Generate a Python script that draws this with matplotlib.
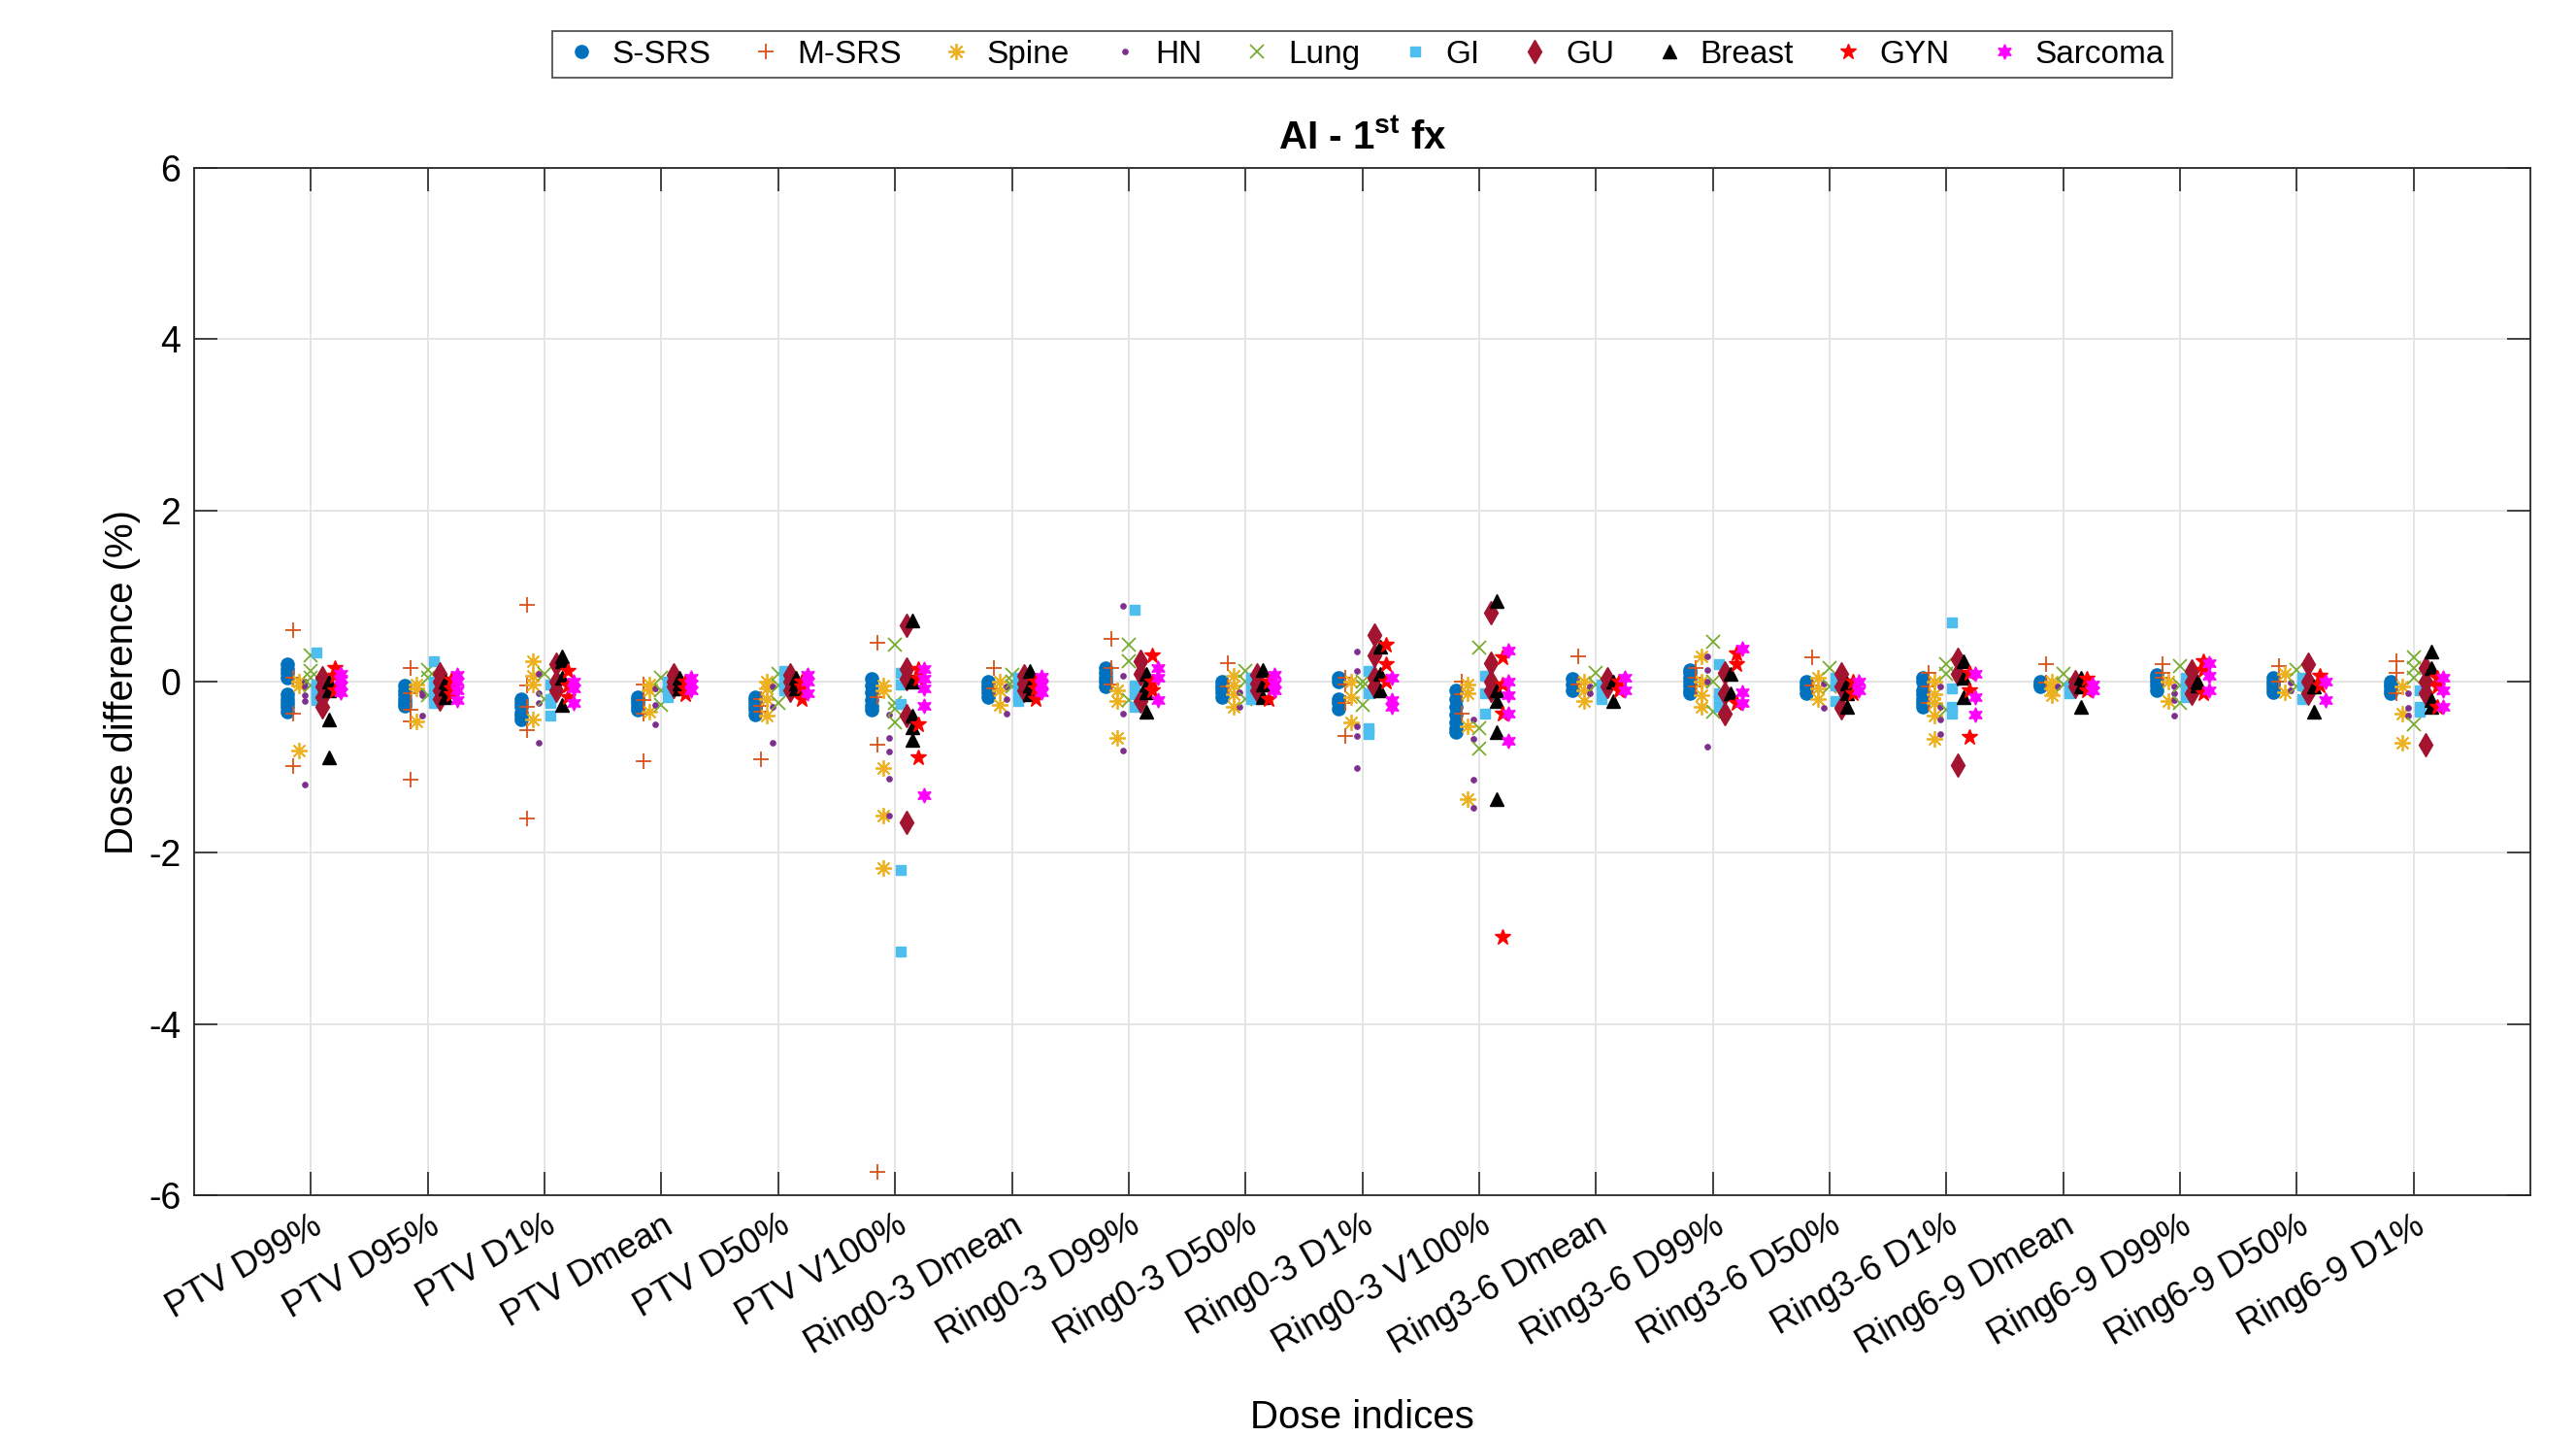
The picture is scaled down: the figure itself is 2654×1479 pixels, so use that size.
import numpy as np
import matplotlib.pyplot as plt

plt.rcParams['font.family'] = ['Liberation Sans', 'DejaVu Sans']
plt.rcParams['mathtext.fontset'] = 'custom'
plt.rcParams['mathtext.rm'] = 'Liberation Sans'
plt.rcParams['mathtext.bf'] = 'Liberation Sans:bold'
plt.rcParams['axes.unicode_minus'] = False

# dose indices on the x axis
indices = ['PTV D99%', 'PTV D95%', 'PTV D1%', 'PTV Dmean', 'PTV D50%', 'PTV V100%',
           'Ring0-3 Dmean', 'Ring0-3 D99%', 'Ring0-3 D50%', 'Ring0-3 D1%', 'Ring0-3 V100%',
           'Ring3-6 Dmean', 'Ring3-6 D99%', 'Ring3-6 D50%', 'Ring3-6 D1%',
           'Ring6-9 Dmean', 'Ring6-9 D99%', 'Ring6-9 D50%', 'Ring6-9 D1%']

groups = ['S-SRS', 'M-SRS', 'Spine', 'HN', 'Lung', 'GI', 'GU', 'Breast', 'GYN', 'Sarcoma']

# dose difference (%) per index, one list per site
s_srs = [[0.2, 0.15, 0.1, 0.05, -0.15, -0.2, -0.25, -0.3, -0.35], [-0.05, -0.1, -0.15, -0.2, -0.25, -0.28],
         [-0.2, -0.25, -0.3, -0.36, -0.4, -0.44], [-0.18, -0.22, -0.25, -0.3, -0.33],
         [-0.18, -0.22, -0.25, -0.3, -0.33, -0.38],
         [0.03, -0.05, -0.12, -0.22, -0.28, -0.33], [0.0, -0.04, -0.08, -0.13, -0.18],
         [0.16, 0.1, 0.05, 0.0, -0.06], [0.0, -0.04, -0.08, -0.13, -0.18],
         [0.05, 0.0, -0.2, -0.25, -0.32], [-0.1, -0.2, -0.29, -0.38, -0.48, -0.54, -0.59],
         [0.03, -0.03, -0.1], [0.14, 0.1, 0.05, 0.0, -0.05, -0.1, -0.14], [0.0, -0.04, -0.08, -0.14],
         [0.05, 0.0, -0.1, -0.15, -0.2, -0.25, -0.29], [0.0, -0.03, -0.06], [0.08, 0.04, 0.0, -0.05, -0.1],
         [0.05, 0.0, -0.03, -0.08, -0.12], [0.0, -0.03, -0.06, -0.1, -0.14]]
m_srs = [[0.6, 0.05, -0.37, -0.99], [0.16, -0.14, -0.33, -0.46, -1.14],
         [0.9, -0.05, -0.29, -0.57, -1.6], [-0.03, -0.22, -0.37, -0.93],
         [-0.2, -0.28, -0.35, -0.91], [0.45, -0.18, -0.74, -5.73], [0.16, -0.08],
         [0.5, 0.16, -0.03], [0.21, -0.06], [0.05, -0.03, -0.25, -0.63],
         [0.0, -0.15, -0.37], [0.29, -0.03], [0.16, 0.05, -0.06], [0.28, -0.05],
         [0.1, -0.06, -0.25], [0.2, -0.01], [0.2, 0.1, 0.05], [0.18, 0.0],
         [0.24, 0.1, -0.14]]
spine = [[0.0, -0.05, -0.8], [-0.03, -0.08, -0.46], [0.24, 0.07, -0.03, -0.44],
         [-0.03, -0.1, -0.35], [0.0, -0.08, -0.2, -0.4], [-0.05, -0.1, -1.01, -1.56, -2.18],
         [0.0, -0.1, -0.27], [-0.1, -0.23, -0.66], [0.07, -0.05, -0.15, -0.3],
         [0.0, -0.18, -0.48], [-0.03, -0.14, -0.52, -1.37], [0.0, -0.1, -0.23],
         [0.29, 0.0, -0.16, -0.29], [0.05, -0.08, -0.2], [0.0, -0.15, -0.25, -0.4, -0.67],
         [0.0, -0.08, -0.16], [0.0, -0.23], [0.09, -0.12], [-0.06, -0.37, -0.71]]
hn = [[0.0, -0.06, -0.16, -0.23, -1.2], [-0.12, -0.16, -0.4], [0.09, -0.14, -0.25, -0.71],
      [-0.08, -0.27, -0.5], [-0.06, -0.29, -0.71], [-0.39, -0.66, -0.82, -1.13, -1.56],
      [-0.06, -0.2, -0.37], [0.89, 0.07, -0.37, -0.8], [-0.12, -0.3],
      [0.35, 0.12, -0.52, -0.63, -1.01], [-0.44, -0.67, -1.15, -1.47], [-0.06, -0.14],
      [0.29, 0.14, 0.0, -0.76], [-0.02, -0.31], [-0.06, -0.29, -0.44, -0.61], [-0.06],
      [-0.06, -0.14, -0.22, -0.4], [-0.01, -0.1], [-0.14, -0.31, -0.4]]
lung = [[0.31, 0.12, 0.05, -0.05], [0.14, 0.05, -0.16], [0.09, -0.2], [0.05, -0.1, -0.27],
        [0.09, -0.05, -0.25], [0.43, -0.25, -0.32, -0.48], [0.08, 0.0, -0.06],
        [0.43, 0.24, -0.22], [0.12, 0.0, -0.2], [0.0, -0.06, -0.27], [0.4, -0.54, -0.78],
        [0.1, -0.03], [0.46, 0.0, -0.35], [0.16, -0.06], [0.2, 0.09, -0.33], [0.09, -0.03],
        [0.18, -0.04, -0.25], [0.14, -0.06], [0.28, 0.16, 0.05, -0.5]]
gi = [[0.34, -0.03, -0.08, -0.12, -0.17, -0.22], [0.24, 0.0, -0.05, -0.1, -0.18, -0.25],
      [-0.03, -0.2, -0.25, -0.4], [0.0, -0.05, -0.1, -0.18], [0.12, 0.03, -0.03, -0.1],
      [0.1, -0.03, -0.26, -2.2, -3.15],
      [0.04, -0.03, -0.1, -0.17, -0.23], [0.84, -0.05, -0.15, -0.3], [0.04, -0.02, -0.08, -0.14, -0.2],
      [0.12, -0.14, -0.55, -0.61],
      [0.07, -0.14, -0.37], [-0.03, -0.1, -0.2], [0.2, -0.14, -0.2, -0.29], [0.05, -0.05, -0.23],
      [0.69, -0.08, -0.3, -0.37], [-0.06, -0.14], [0.05, -0.02, -0.08, -0.18], [0.05, -0.05, -0.2],
      [-0.1, -0.3, -0.35]]
gu = [[0.05, -0.06, -0.18, -0.29], [0.09, 0.0, -0.1, -0.2], [0.2, 0.0, -0.1],
      [0.08, 0.0, -0.06], [0.08, 0.0, -0.1], [0.66, 0.15, 0.03, -0.4, -1.64],
      [0.07, -0.02, -0.1], [0.24, 0.09, -0.23], [0.08, -0.02, -0.1],
      [0.54, 0.31, 0.05, -0.06], [0.8, 0.21, 0.0, -0.1], [0.03, -0.06],
      [0.1, -0.14, -0.37], [0.09, -0.06, -0.31], [0.26, 0.09, -0.97], [0.0, -0.06],
      [0.12, 0.0, -0.14], [0.2, 0.0, -0.14], [0.16, 0.0, -0.14, -0.74]]
breast = [[0.0, -0.1, -0.44, -0.88], [0.0, -0.08, -0.18], [0.3, 0.24, 0.05, -0.27],
          [0.05, -0.02, -0.08], [0.05, -0.02, -0.08], [0.71, 0.0, -0.4, -0.53, -0.68],
          [0.13, -0.05, -0.15], [0.09, -0.03, -0.12, -0.35], [0.14, -0.03, -0.18],
          [0.41, 0.09, -0.1], [0.94, -0.1, -0.23, -0.59, -1.37], [0.0, -0.23],
          [0.09, -0.14], [-0.02, -0.14, -0.29], [0.24, 0.05, -0.18], [0.05, -0.06, -0.29],
          [0.0, -0.05], [-0.06, -0.35], [0.35, 0.16, -0.22, -0.29]]
gyn = [[0.16, 0.07, -0.1], [0.02, -0.08, -0.15], [0.12, -0.05, -0.18], [0.0, -0.08, -0.15],
       [0.0, -0.06, -0.2], [0.15, 0.03, -0.5, -0.89], [0.0, -0.08, -0.2], [0.31, 0.0, -0.1],
       [0.0, -0.2], [0.43, 0.2, 0.0], [0.28, -0.03, -0.37, -2.98], [0.0, -0.1],
       [0.33, 0.2, -0.25], [0.0, -0.14], [0.1, -0.1, -0.65], [0.03, -0.1],
       [0.24, 0.14, -0.14], [0.07, -0.04], [0.05, -0.06, -0.29]]
sarcoma = [[0.09, 0.03, -0.04, -0.12], [0.08, 0.0, -0.1, -0.22], [0.0, -0.08, -0.25],
           [0.05, -0.02, -0.1], [0.08, 0.0, -0.14], [0.15, 0.03, -0.08, -0.28, -1.33],
           [0.06, -0.03, -0.12], [0.16, 0.05, -0.22], [0.08, -0.02, -0.1],
           [0.05, -0.22, -0.29], [0.36, 0.0, -0.16, -0.37, -0.69], [0.05, -0.1],
           [0.39, -0.12, -0.25], [0.0, -0.1], [0.09, -0.18, -0.39], [-0.03, -0.1],
           [0.22, 0.07, -0.1], [0.0, -0.22], [0.05, -0.1, -0.29]]

all_data = [s_srs, m_srs, spine, hn, lung, gi, gu, breast, gyn, sarcoma]

# marker styles (MATLAB-like)
styles = [
    dict(marker='o', color='#0072BD', ms=9.5, mfc='#0072BD'),
    dict(marker='+', color='#D95319', ms=11, mew=1.3),
    dict(marker=(8, 2, 0), color='#EDB120', ms=12, mew=1.3),
    dict(marker='o', color='#7E2F8E', ms=3.8, mfc='#7E2F8E'),
    dict(marker='x', color='#77AC30', ms=10, mew=1.3),
    dict(marker='s', color='#4DBEEE', ms=7.5, mfc='#4DBEEE'),
    dict(marker='d', color='#A2142F', ms=12, mfc='#A2142F'),
    dict(marker='^', color='black', ms=10, mfc='black'),
    dict(marker='*', color='red', ms=12, mfc='red'),
    dict(marker=(6, 1, 0), color='magenta', ms=11, mfc='magenta'),
]

fig = plt.figure(figsize=(26.54, 14.79), dpi=100)
ax = fig.add_axes([0.0754, 0.1677, 0.9069, 0.7153])

xpos = np.arange(1, len(indices) + 1)
for g, (name, data, st) in enumerate(zip(groups, all_data, styles)):
    off = (g - 4) * 0.05
    xs, ys = [], []
    for k, vals in enumerate(data):
        xs += [xpos[k] + off] * len(vals)
        ys += vals
    ax.plot(xs, ys, linestyle='none', label=name, **st)

ax.set_xlim(0, 20)
ax.set_ylim(-6, 6)
ax.set_yticks(np.arange(-6, 7, 2))
ax.set_xticks(xpos)
ax.set_xticklabels(indices, rotation=30, ha='right', rotation_mode='anchor', fontsize=26)
ax.tick_params(axis='y', labelsize=27)
ax.tick_params(direction='in', length=17, width=1.2, top=True, right=True, color='#262626', pad=10)
ax.grid(True, color='#e3e3e3', linewidth=1.3)
ax.set_axisbelow(True)
for sp in ax.spines.values():
    sp.set_color('#262626')
    sp.set_linewidth(1.3)

ax.set_xlabel('Dose indices', fontsize=29, labelpad=28)
ax.set_ylabel('Dose difference (%)', fontsize=29, labelpad=6)
ax.set_title(r'AI - 1$^{\mathbf{st}}$ fx', fontsize=29, fontweight='bold', pad=14)

leg = ax.legend(ncol=10, loc='lower center', bbox_to_anchor=(0.5, 1.088), fontsize=24,
                frameon=True, fancybox=False, edgecolor='#262626', handletextpad=0.3,
                columnspacing=1.05, borderpad=0.25, handlelength=1.3, borderaxespad=0)
leg.get_frame().set_linewidth(1.3)

fig.savefig('out.png', dpi=100)
